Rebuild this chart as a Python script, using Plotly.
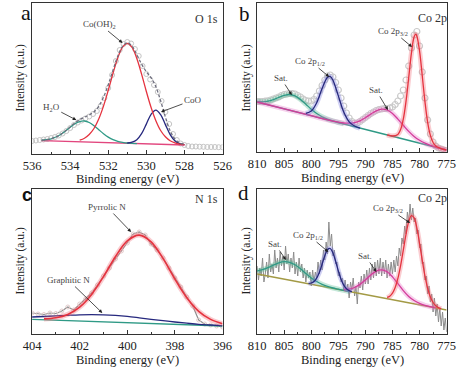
import plotly.graph_objects as go

W, H = 471, 372

# ---------------- Panel a : O 1s ----------------
A_DATA_E = [536.0, 535.8, 535.6, 535.4, 535.2, 535.0, 534.8, 534.6, 534.4, 534.2, 534.0, 533.8, 533.6,
            533.4, 533.2, 533.0, 532.8, 532.6, 532.4, 532.2, 532.0, 531.8, 531.6, 531.4, 531.2, 531.0,
            530.8, 530.6, 530.4, 530.2, 530.0, 529.8, 529.6, 529.4, 529.2, 529.0, 528.8, 528.6, 528.4,
            528.2, 528.0, 527.8, 527.6, 527.4, 527.2, 527.0, 526.8, 526.6, 526.4, 526.2, 526.0]
A_DATA = [13, 13.5, 14, 14.5, 15, 16, 17, 18.5, 20.5, 23, 26, 29, 31.5, 33.5, 35.5, 37.5, 40, 43, 48, 56,
          66, 79, 93, 104, 110, 112, 110.5, 105, 98, 88, 80, 74.5, 69, 62, 53, 42, 30, 20, 14, 10.5, 9,
          8, 7.5, 7.5, 7.3, 7.2, 7, 7, 7, 6.8, 6.8]
A_FIT_E = [535.5, 535.25, 535.0, 534.75, 534.5, 534.25, 534.0, 533.75, 533.5, 533.25, 533.0, 532.75,
           532.5, 532.25, 532.0, 531.75, 531.5, 531.25, 531.0, 530.75, 530.5, 530.25, 530.0, 529.75,
           529.5, 529.25, 529.0, 528.75, 528.5, 528.25, 528.0]
A_FIT = [13.8, 14.3, 15.2, 17.0, 19.5, 23.1, 27.0, 31.0, 34.2, 36.8, 39.1, 42.1, 47.7, 56.8, 69.3, 83.9,
         97.8, 107.7, 111.3, 107.9, 99.4, 89.9, 82.3, 76.2, 67.3, 53.2, 37.0, 23.2, 15.0, 11.1, 9.6]
A_OH_E = [533.5, 533.25, 533.0, 532.75, 532.5, 532.25, 532.0, 531.75, 531.5, 531.25, 531.0, 530.75,
          530.5, 530.25, 530.0, 529.75, 529.5, 529.25, 529.0, 528.75, 528.5, 528.25, 528.0]
A_OH = [13.9, 15.8, 19.5, 25.5, 35.0, 47.9, 63.7, 80.7, 96.1, 106.9, 110.7, 106.6, 95.5, 79.9, 62.5,
        46.5, 33.3, 23.5, 17.2, 13.2, 11.1, 9.9, 9.3]
A_H2O_E = [535.5, 535.25, 535.0, 534.75, 534.5, 534.25, 534.0, 533.75, 533.5, 533.25, 533.0, 532.75,
           532.5, 532.25, 532.0, 531.75, 531.5, 531.25, 531.0, 530.75, 530.5]
A_H2O = [13.8, 14.3, 15.2, 17.0, 19.5, 23.0, 26.7, 30.2, 32.4, 33.0, 31.5, 28.3, 24.3, 20.3, 16.9,
         14.3, 12.7, 11.7, 11.0, 10.7, 10.4]
A_COO_E = [531.0, 530.75, 530.5, 530.25, 530.0, 529.75, 529.5, 529.25, 529.0, 528.75, 528.5, 528.25, 528.0]
A_COO = [11.0, 11.8, 14.3, 20.3, 29.9, 39.7, 43.9, 39.4, 29.4, 19.4, 13.2, 10.3, 9.3]
A_BASE_E = [535.5, 528.0]
A_BASE = [13.3, 9.0]

# ---------------- Panel b : Co 2p ----------------
B_DATA_E = [810.0, 809.5, 809.0, 808.5, 808.0, 807.5, 807.0, 806.5, 806.0, 805.5, 805.0, 804.5, 804.0,
            803.5, 803.0, 802.5, 802.0, 801.5, 801.0, 800.5, 800.0, 799.5, 799.0, 798.5, 798.0, 797.5,
            797.0, 796.5, 796.0, 795.5, 795.0, 794.5, 794.0, 793.5, 793.0, 792.5, 792.0, 791.5, 791.0,
            790.5, 790.0, 789.5, 789.0, 788.5, 788.0, 787.5, 787.0, 786.5, 786.0, 785.5, 785.0, 784.5,
            784.0, 783.5, 783.0, 782.5, 782.0, 781.5, 781.0, 780.5, 780.0, 779.5, 779.0, 778.5, 778.0,
            777.5, 777.0, 776.5, 776.0, 775.5, 775.0]
B_DATA = [50.5, 50.5, 50.5, 50.8, 51.2, 52, 53, 54, 55, 56.5, 57.5, 58, 58.5, 58.5, 58, 56.5, 55, 53,
          51.5, 51, 51, 52.5, 56, 61, 66.5, 72, 76, 77, 75, 69.5, 62, 54, 46, 39, 34, 30.5, 29, 29,
          30.5, 32.5, 34.5, 36.5, 38.5, 40, 41.5, 42.5, 43, 43.5, 43.5, 44, 45, 47.5, 51, 56, 62, 72,
          86, 104, 117, 120.5, 106, 80, 54, 32, 18, 10, 6, 4, 3, 2, 1.5]
B_BASE_E = [810, 775]
B_BASE = [50, 2]
B_SAT1_E = [810, 809, 808, 807, 806, 805, 804, 803, 802, 801, 800, 799, 798, 797, 796, 795, 794]
B_SAT1 = [50.7, 50.3, 50.9, 52.4, 54.6, 56.6, 57.5, 56.1, 52.5, 47.8, 42.8, 38.5, 35.2, 32.9, 31.1,
          29.5, 28.1]
B_P12_E = [801, 800, 799, 798, 797, 796.5, 796, 795, 794, 793, 792, 791]
B_P12 = [38.7, 40.9, 49.2, 63.5, 74.8, 75.5, 71.8, 56.1, 39.9, 30.2, 26.0, 23.9]
B_SAT2_E = [810, 805, 800, 796, 795, 794, 793, 792, 791, 790, 789, 788, 787, 786, 785, 784, 783, 782,
            781, 780, 779, 778, 777, 776, 775]
B_SAT2 = [50.0, 43.1, 36.3, 30.9, 29.8, 29.0, 28.8, 29.4, 31.2, 34.3, 37.9, 41.1, 42.8, 42.0, 38.5,
          32.9, 26.7, 20.6, 15.5, 11.7, 8.8, 6.6, 4.9, 3.4, 2.0]
B_P32_E = [786, 785, 784, 783.5, 783, 782.5, 782, 781.5, 781, 780.7, 780.5, 780, 779.5, 779, 778.5,
           778, 777.5, 777, 776, 775]
B_P32 = [17.1, 16.0, 17.6, 22.5, 32.9, 50.6, 74.5, 98.9, 115.2, 117.8, 116.1, 101.2, 76.3, 50.4, 29.7,
         16.6, 9.5, 6.1, 3.4, 2.0]

# ---------------- Panel c : N 1s ----------------
C_DATA_E = [404.0, 403.75, 403.5, 403.25, 403.0, 402.75, 402.5, 402.25, 402.0, 401.75, 401.5, 401.25,
            401.0, 400.75, 400.5, 400.25, 400.0, 399.75, 399.5, 399.25, 399.0, 398.75, 398.5, 398.25,
            398.0, 397.75, 397.5, 397.25, 397.0, 396.75, 396.5, 396.25, 396.0]
C_DATA = [21, 20, 19.5, 21, 20.5, 23, 27, 24, 30, 35, 41, 49, 58, 66, 75, 83, 91, 100, 102, 99, 90, 84,
          76, 66, 56, 47, 37, 28, 14, 10, 9, 8, 7]
C_BASE_E = [404, 396]
C_BASE = [14.7, 8.0]
C_GRAPH_E = [404, 403.5, 403, 402.5, 402, 401.5, 401, 400.5, 400, 399.5, 399, 398.5, 398, 397.5, 397,
             396.5, 396]
C_GRAPH = [17.0, 17.5, 18.1, 18.7, 19.2, 19.4, 19.2, 18.6, 17.6, 16.2, 14.7, 13.3, 12.0, 10.8, 9.7,
           9.0, 8.3]
C_PYR_E = [403.5, 403, 402.5, 402, 401.5, 401, 400.5, 400, 399.5, 399, 398.5, 398, 397.5, 397, 396.5, 396]
C_PYR = [15.1, 16.2, 19.6, 26.9, 39.6, 57.4, 77.3, 93.1, 98.9, 92.2, 75.6, 54.9, 36.3, 22.7, 14.6, 10.3]

# ---------------- Panel d : Co 2p (noisy), read every 0.25 eV from 810 to 775 ----------------
D_DATA = [68, 54, 66, 58,  76, 52, 60, 72,  56, 80, 62, 70,  60, 84, 66, 76,  62, 82, 68, 78,
          64, 88, 70, 80,  62, 76, 66, 82,  60, 72, 58, 76,  62, 70, 56, 66,  52, 64, 56, 62,
          48, 64, 52, 62,  56, 72, 60, 74,  64, 84, 74, 92,  80, 112, 88, 100,  78, 84, 70, 72,
          58, 62, 52, 56,  44, 54, 42, 50,  36, 52, 44, 56,  38, 48, 30, 52,  46, 58, 44, 60,
          50, 64, 50, 66,  54, 70, 56, 72,  58, 74, 60, 76,  58, 72, 60, 74,  56, 70, 58, 72,
          60, 74, 62, 78,  68, 86, 78, 96,  90, 108, 100, 122,  112, 130, 114, 126,  112, 116, 100, 104,
          86, 90, 70, 72,  54, 58, 40, 48,  32, 40, 22, 36,  18, 30, 12, 26,  8, 22, 4, 16,
          2]
D_DATA_E = [810 - 0.25 * i for i in range(len(D_DATA))]
D_BASE_E = [810, 775]
D_BASE = [60, 24]
D_SAT1_E = [810, 809, 808, 807, 806, 805, 804, 803, 802, 801, 800, 799, 798, 797, 796, 795, 794, 793]
D_SAT1 = [63.0, 64.3, 66.3, 68.9, 71.2, 72.4, 71.7, 69.2, 65.2, 60.5, 56.1, 52.5, 49.7, 47.6, 46.0,
          44.8, 43.6, 42.5]
D_P12_E = [800.5, 800, 799.5, 799, 798.5, 798, 797.5, 797, 796.5, 796, 795.5, 795, 794.5, 794, 793.5,
           793, 792.5]
D_P12 = [50.6, 51.0, 52.5, 55.9, 61.8, 69.8, 78.2, 84.3, 85.5, 81.1, 72.7, 63.1, 54.8, 48.8, 45.3,
         43.4, 42.3]
D_SAT2_E = [794, 793, 792, 791, 790, 789, 788, 787, 786, 785, 784, 783, 782, 781, 780, 779, 778, 777]
D_SAT2 = [44.5, 44.9, 46.5, 49.6, 54.0, 59.0, 62.9, 64.2, 62.2, 57.1, 50.3, 43.4, 37.6, 33.5, 30.6,
          28.7, 27.3, 26.1]
D_P32_E = [786, 785.5, 785, 784.5, 784, 783.5, 783, 782.5, 782, 781.5, 781, 780.5, 780, 779.5, 779,
           778.5, 778, 777.5, 777, 776.5, 776]
D_P32 = [36.6, 37.8, 40.8, 46.5, 55.6, 68.4, 83.9, 99.7, 112.2, 118.3, 116.1, 106.1, 90.7, 73.7, 58.0,
         45.6, 36.9, 31.5, 28.3, 26.4, 25.3]

# ---------------- styling ----------------
SERIF = "Liberation Serif"
RED, BLUE, TEAL, MAG, OLIVE = "#e5333f", "#26287e", "#2f9a86", "#d43c9a", "#a39a45"
GLOW = {RED: "rgba(240,110,120,0.35)", BLUE: "rgba(120,120,220,0.35)",
        TEAL: "rgba(90,190,150,0.35)", MAG: "rgba(230,120,200,0.35)", OLIVE: "rgba(200,190,110,0.3)"}

fig = go.Figure()


def line(x, y, ax, color, width=1.3, glow=False, shape="spline", dash=None):
    xa, ya = ("x", "y") if ax == 1 else ("x%d" % ax, "y%d" % ax)
    if glow:
        fig.add_trace(go.Scatter(x=x, y=y, xaxis=xa, yaxis=ya, mode="lines", hoverinfo="skip",
                                 line=dict(color=GLOW[color], width=5, shape=shape)))
    fig.add_trace(go.Scatter(x=x, y=y, xaxis=xa, yaxis=ya, mode="lines", hoverinfo="skip",
                             line=dict(color=color, width=width, shape=shape, dash=dash)))


def circles(x, y, ax, color, size=5, lw=1):
    xa, ya = ("x", "y") if ax == 1 else ("x%d" % ax, "y%d" % ax)
    fig.add_trace(go.Scatter(x=x, y=y, xaxis=xa, yaxis=ya, mode="markers", hoverinfo="skip",
                             marker=dict(symbol="circle-open", size=size, color=color,
                                         line=dict(width=lw, color=color))))


# panel a
circles(A_DATA_E, A_DATA, 1, "#c4c4c4", size=5)
line(A_BASE_E, A_BASE, 1, "#e2467e", shape="linear")
line(A_H2O_E, A_H2O, 1, TEAL)
line(A_COO_E, A_COO, 1, BLUE)
line(A_OH_E, A_OH, 1, RED)
line(A_FIT_E, A_FIT, 1, "#6e6e7e", width=1.3, dash="3px,2px")

# panel b
circles(B_DATA_E, B_DATA, 2, "#c9c9c9", size=6, lw=1.2)
line(B_BASE_E, B_BASE, 2, TEAL, shape="linear")
line(B_SAT1_E, B_SAT1, 2, TEAL, glow=True)
line(B_SAT2_E, B_SAT2, 2, MAG, glow=True)
line(B_P12_E, B_P12, 2, BLUE, glow=True)
line(B_P32_E, B_P32, 2, RED, glow=True)

# panel c
line(C_DATA_E, C_DATA, 3, "#8f8f8f", width=1.2, shape="linear")
circles(C_DATA_E, C_DATA, 3, "#e2caca", size=4)
line(C_BASE_E, C_BASE, 3, TEAL, shape="linear")
line(C_GRAPH_E, C_GRAPH, 3, BLUE)
line(C_PYR_E, C_PYR, 3, RED, width=1.6, glow=True)

# panel d
line(D_DATA_E, D_DATA, 4, "#8c8c8c", width=1.0, shape="linear")
line(D_BASE_E, D_BASE, 4, OLIVE, shape="linear")
line(D_SAT1_E, D_SAT1, 4, TEAL, glow=True)
line(D_SAT2_E, D_SAT2, 4, MAG, glow=True)
line(D_P12_E, D_P12, 4, BLUE, glow=True)
line(D_P32_E, D_P32, 4, RED, glow=True)


def xaxis(dom, rng, dt, anchor):
    return dict(domain=[dom[0] / W, dom[1] / W], range=rng, anchor=anchor, dtick=dt,
                showline=True, mirror=True, linecolor="#333", linewidth=1,
                ticks="inside", ticklen=4, tickwidth=1, tickcolor="#333",
                showgrid=False, zeroline=False,
                tickfont=dict(family=SERIF, size=12.5, color="#222"),
                minor=dict(ticks="inside", ticklen=2, dtick=dt / 2, tickcolor="#333", showgrid=False))


def yaxis(top, bottom, anchor):
    return dict(domain=[1 - bottom / H, 1 - top / H], range=[0, bottom - top], anchor=anchor,
                showline=True, mirror=True, linecolor="#333", linewidth=1,
                ticks="", showticklabels=False, showgrid=False, zeroline=False)


ann = []


def text(px, py, s, size=9, family=SERIF, color="#333", angle=0):
    ann.append(dict(x=px / W, y=1 - py / H, xref="paper", yref="paper", text=s, showarrow=False,
                    textangle=angle, xanchor="center", yanchor="middle",
                    font=dict(family=family, size=size, color=color)))


def arrow(ax_i, x, y, dx, dy, s):
    xr, yr = ("x", "y") if ax_i == 1 else ("x%d" % ax_i, "y%d" % ax_i)
    ann.append(dict(x=x, y=y, xref=xr, yref=yr, ax=dx, ay=dy, text=s, showarrow=True,
                    arrowhead=2, arrowsize=0.9, arrowwidth=0.8, arrowcolor="#222",
                    standoff=0, startstandoff=0,
                    font=dict(family=SERIF, size=9, color="#444")))


# panel letters
text(18, 13, "a", size=22, color="#111")
text(245, 14, "b", size=21, color="#111")
text(19, 195, "<b>c</b>", size=18, family="Liberation Sans", color="#111")
text(244, 193, "d", size=21, color="#111")
# corner labels
text(205, 19, "O 1s", size=12)
text(440, 18, "Co 2p", size=12)
text(205, 199, "N 1s", size=12)
text(440, 198, "Co 2p", size=12)
# axis titles
for cx, cy in [(123, 179), (357, 178), (123, 360), (357, 360)]:
    text(cx, cy, "Binding energy (eV)", size=12.5, color="#222")
for cx, cy in [(11, 78), (246, 78), (11, 261), (246, 261)]:
    text(cx, cy, "Intensity (a.u.)", size=11.5, color="#222", angle=-90)

# peak annotations
arrow(1, 531.25, 111, -23, -19, "Co(OH)<sub>2</sub>")
arrow(1, 533.68, 34, -25, -13, "H<sub>2</sub>O")
arrow(1, 529.23, 42, 32, -12, "CoO")
arrow(2, 781.4, 105, -19, -16, "Co 2p<sub>3/2</sub>")
arrow(2, 796.68, 75, -19, -16, "Co 2p<sub>1/2</sub>")
arrow(2, 803.6, 57, -11, -17, "Sat.")
arrow(2, 785.84, 42, -12, -20, "Sat.")
arrow(3, 399.84, 102, -24, -25, "Pyrrolic N")
arrow(3, 401.05, 21, -34, -33, "Graphitic N")
arrow(4, 781.75, 111, -22, -15, "Co 2p<sub>3/2</sub>")
arrow(4, 796.85, 82, -20, -17, "Co 2p<sub>1/2</sub>")
arrow(4, 804.67, 74, -11, -16, "Sat.")
arrow(4, 787.97, 62, -11, -16, "Sat.")

fig.update_layout(
    width=W, height=H, margin=dict(l=0, r=0, t=0, b=0),
    paper_bgcolor="white", plot_bgcolor="white", showlegend=False,
    font=dict(family=SERIF),
    xaxis=xaxis((24, 222), [536, 526], 2, "y"),
    yaxis=yaxis(3, 154, "x"),
    xaxis2=xaxis((258, 455), [810, 775], 5, "y2"),
    yaxis2=yaxis(3, 152, "x2"),
    xaxis3=xaxis((24, 222), [404, 396], 2, "y3"),
    yaxis3=yaxis(189, 334, "x3"),
    xaxis4=xaxis((258, 455), [810, 775], 5, "y4"),
    yaxis4=yaxis(189, 334, "x4"),
    annotations=ann,
)

fig.write_html("out.html", config={"displayModeBar": False},
               post_script="document.body.style.margin='0px';")
